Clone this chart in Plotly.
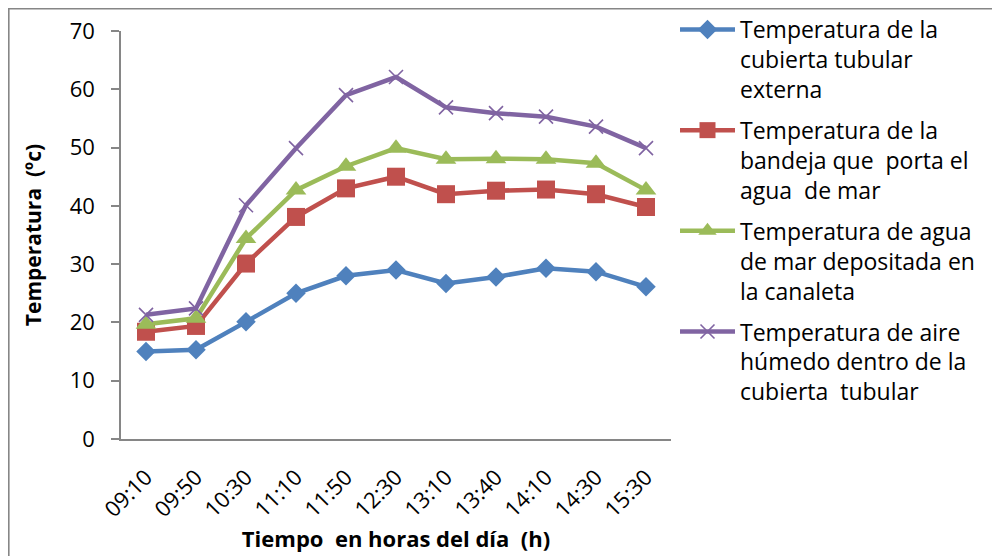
import plotly.graph_objects as go

categories = ["09:10", "09:50", "10:30", "11:10", "11:50", "12:30",
              "13:10", "13:40", "14:10", "14:30", "15:30"]

cubierta_externa = [15.0, 15.3, 20.1, 25.0, 28.0, 29.0, 26.7, 27.8, 29.3, 28.7, 26.1]
bandeja = [18.4, 19.4, 30.1, 38.1, 43.0, 45.0, 42.0, 42.6, 42.8, 42.0, 39.8]
agua_canaleta = [19.7, 20.7, 34.4, 42.7, 46.8, 49.9, 48.0, 48.1, 48.0, 47.3, 42.7]
aire_humedo = [21.3, 22.4, 40.1, 49.9, 59.0, 62.1, 56.9, 55.9, 55.3, 53.6, 49.9]

series_names = [
    "Temperatura de la<br>cubierta tubular<br>externa",
    "Temperatura de la<br>bandeja que  porta el<br>agua  de mar",
    "Temperatura de agua<br>de mar depositada en<br>la canaleta",
    "Temperatura de aire<br>húmedo dentro de la<br>cubierta  tubular",
]

y_ticks = [0, 10, 20, 30, 40, 50, 60, 70]

colors = ["#4F81BD", "#C0504D", "#9BBB59", "#8064A2"]
FONT = "Open Sans"

# page offset introduced by the default 8px body margin of the html page
OFF = 8
W, H = 1000, 556
PL, PR, PT, PB = 121 - OFF, 671 - OFF, 31 - OFF, 439 - OFF  # plot area (figure px)
PW, PH = PR - PL, PB - PT

fig = go.Figure()

fig.add_trace(go.Scatter(
    x=categories, y=cubierta_externa, name=series_names[0], legendgroup="g1",
    mode="lines+markers", line=dict(color=colors[0], width=4.5),
    marker=dict(symbol="diamond", size=15, color=colors[0])))
fig.add_trace(go.Scatter(
    x=categories, y=bandeja, name=series_names[1], legendgroup="g2",
    mode="lines+markers", line=dict(color=colors[1], width=4.5),
    marker=dict(symbol="square", size=18, color=colors[1])))
fig.add_trace(go.Scatter(
    x=categories, y=agua_canaleta, name=series_names[2], legendgroup="g3",
    mode="lines+markers", line=dict(color=colors[2], width=4.5),
    marker=dict(symbol="triangle-up", size=18, color=colors[2])))
fig.add_trace(go.Scatter(
    x=categories, y=aire_humedo, name=series_names[3], legendgroup="g4",
    mode="lines+markers", line=dict(color=colors[3], width=4.5),
    marker=dict(symbol="x-thin", size=14, color=colors[3],
                line=dict(color=colors[3], width=1.6))))

fig.update_layout(
    width=W, height=H,
    margin=dict(l=PL, r=W - PR, t=PT, b=H - PB, autoexpand=False),
    paper_bgcolor="white", plot_bgcolor="white",
    font=dict(family=FONT, color="black", size=22),
    showlegend=True,
    legend=dict(x=(675 - OFF - PL) / PW, y=1 + 2 / H, xanchor="left", yanchor="top",
                yref="container", maxheight=552,
                font=dict(family=FONT, size=23, color="black"),
                valign="top", itemwidth=55, tracegroupgap=8,
                bgcolor="rgba(0,0,0,0)", borderwidth=0),
    xaxis=dict(type="category", range=[-0.5, 10.5], showline=True,
               linecolor="#868686", linewidth=1.5, ticks="", showgrid=False,
               zeroline=False, tickangle=-45, automargin=False,
               ticklabelstandoff=15,
               tickfont=dict(family=FONT, size=22, color="black"),
               title=dict(text="<b>Tiempo  en horas del día  (h)</b>",
                          font=dict(family=FONT, size=22, color="black"),
                          standoff=7)),
    yaxis=dict(range=[0, 70], tickvals=y_ticks, showline=True,
               linecolor="#868686", linewidth=1.5, ticks="outside",
               ticklen=8, tickwidth=1.5, tickcolor="#868686", automargin=False,
               showgrid=False, zeroline=False, ticklabelstandoff=12,
               tickfont=dict(family=FONT, size=22, color="black"),
               title=dict(text="<b>Temperatura  (ºc)</b>",
                          font=dict(family=FONT, size=21, color="black"),
                          standoff=22)),
    shapes=[dict(type="rect", xref="paper", yref="paper",
                 x0=(0.6 - PL) / PW, x1=(W + 20 - PL) / PW,
                 y0=(PB - (H + 30)) / PH, y1=(PB - 0.6) / PH,
                 line=dict(color="#868686", width=2), fillcolor="rgba(0,0,0,0)",
                 layer="below")],
)

fig.write_html("out.html")
